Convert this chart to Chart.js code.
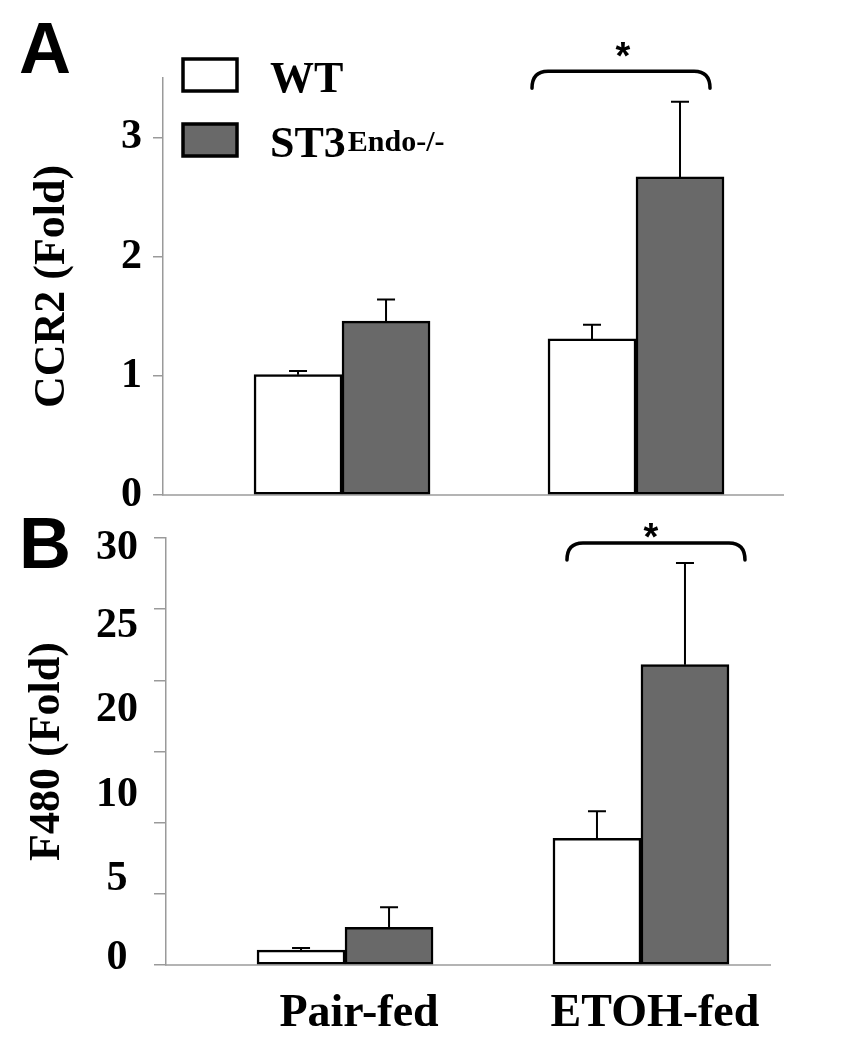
<!DOCTYPE html>
<html>
<head>
<meta charset="utf-8">
<script src="https://cdn.jsdelivr.net/npm/chart.js@4"></script>
<style>
  body { margin: 0; background: #fff; }
  canvas { position: absolute; left: 0; }
  #chartA { top: 0; }
  #chartB { top: 510px; }
</style>
</head>
<body>
<canvas id="chartA" width="856" height="510"></canvas>
<canvas id="chartB" width="856" height="540"></canvas>
<script>
// categories and series
const categories = ['Pair-fed', 'ETOH-fed'];
const seriesNames = ['WT', 'ST3'];
const seriesSup = ['', 'Endo-/-'];

// panel A: CCR2 (fold)
const ccr2WT = [1.01, 1.31];
const ccr2WTErr = [0.03, 0.12];
const ccr2KO = [1.46, 2.67];
const ccr2KOErr = [0.18, 0.63];
const ccr2Ticks = [0, 1, 2, 3];

// panel B: F480 (fold)
const f480WT = [1.05, 8.9];
const f480WTErr = [0.14, 1.9];
const f480KO = [2.65, 21.1];
const f480KOErr = [1.4, 7.15];
const f480Ticks = [0, 5, 10, 15, 20, 25, 30];
const f480TickLabels = ['0', '5', '10', '20', '25', '30'];
const f480LabelAt = [0.5, 6.0, 11.9, 17.9, 23.8, 29.3];

const serif = "'Liberation Serif', 'Times New Roman', serif";
const sans = "'Liberation Sans', Arial, sans-serif";
const axisGray = '#9a9a9a';
const koFill = '#696969';

// fixed axis width, no extra room for the end labels
function fixWidth(w) {
    return s => {
        s.width = w;
        s.paddingTop = 0;
        s.paddingBottom = 0;
    };
}

// error bars, significance bracket, legend and panel letter
const annotate = {
    id: 'annotate',
    afterDatasetsDraw(chart, args, opts) {
        const ctx = chart.ctx;
        const xs = chart.scales.x;
        const ys = chart.scales.y;
        const area = chart.chartArea;
        ctx.save();

        // error bars (upper half only)
        ctx.strokeStyle = '#000';
        ctx.lineWidth = 2;
        chart.data.datasets.forEach((ds, di) => {
            chart.getDatasetMeta(di).data.forEach((bar, i) => {
                const top = ys.getPixelForValue(ds.data[i].y + ds.err[i]);
                ctx.beginPath();
                ctx.moveTo(bar.x, bar.y);
                ctx.lineTo(bar.x, top);
                ctx.moveTo(bar.x - 9, top);
                ctx.lineTo(bar.x + 9, top);
                ctx.stroke();
            });
        });

        // bracket with star
        const s = opts.sig;
        const cx = xs.getPixelForValue(s.index + 1) + s.shift;
        const by = ys.getPixelForValue(s.value);
        const x1 = cx - 89, x2 = cx + 89, drop = 17, r = 16;
        ctx.lineWidth = 3.5;
        ctx.lineCap = 'round';
        ctx.beginPath();
        ctx.moveTo(x1, by + drop);
        ctx.quadraticCurveTo(x1, by, x1 + r, by);
        ctx.lineTo(x2 - r, by);
        ctx.quadraticCurveTo(x2, by, x2, by + drop);
        ctx.stroke();
        ctx.font = 'bold 38px ' + sans;
        ctx.fillStyle = '#000';
        ctx.textAlign = 'center';
        ctx.textBaseline = 'alphabetic';
        const m = ctx.measureText('*');
        ctx.fillText('*', cx + s.starShift, by - s.starGap - m.actualBoundingBoxDescent);

        // panel letter
        ctx.font = 'bold 72px ' + sans;
        ctx.textAlign = 'left';
        ctx.fillText(opts.letter, 19, opts.letterBase);

        // legend
        if (opts.legend) {
            chart.data.datasets.forEach((ds, di) => {
                const lx = area.left + 20, ly = area.top - 19 + di * 65;
                ctx.fillStyle = ds.backgroundColor;
                ctx.fillRect(lx, ly, 54, 32);
                ctx.lineWidth = 3.5;
                ctx.strokeStyle = '#000';
                ctx.strokeRect(lx, ly, 54, 32);
                ctx.fillStyle = '#000';
                ctx.font = 'bold 44px ' + serif;
                ctx.fillText(seriesNames[di], 270, ly + 33);
                if (seriesSup[di]) {
                    const w = ctx.measureText(seriesNames[di]).width;
                    ctx.font = 'bold 30px ' + serif;
                    ctx.fillText(seriesSup[di], 272 + w, ly + 27);
                }
            });
        }
        ctx.restore();
    }
};

function barSet(name, values, errs, fill) {
    return {
        label: name,
        data: values.map((v, i) => ({ x: i + 1, y: v })),
        err: errs,
        backgroundColor: fill,
        borderColor: '#000',
        borderWidth: 2.5,
        borderSkipped: false,
        barThickness: 88
    };
}

// Panel A
new Chart(document.getElementById('chartA'), {
    type: 'bar',
    data: {
        datasets: [
            barSet(seriesNames[0], ccr2WT, ccr2WTErr, '#ffffff'),
            barSet(seriesNames[1], ccr2KO, ccr2KOErr, koFill)
        ]
    },
    plugins: [annotate],
    options: {
        responsive: false,
        animation: false,
        layout: { padding: { top: 78, right: 73, bottom: 15, left: 0 } },
        scales: {
            x: {
                type: 'linear',
                offset: false,
                min: 0.391,
                max: 2.5,
                afterBuildTicks: s => { s.ticks = categories.map((c, i) => ({ value: i + 1 })); },
                afterFit: s => { s.height = 0; },
                ticks: { display: false },
                grid: { display: false, offset: false },
                border: { color: '#b4b4b4', width: 2 }
            },
            y: {
                min: 0,
                max: 3.5,
                afterBuildTicks: s => { s.ticks = ccr2Ticks.map(v => ({ value: v })); },
                afterFit: fixWidth(163),
                grid: { drawOnChartArea: false, tickLength: 10, color: axisGray, lineWidth: 1.5 },
                border: { color: axisGray, width: 1.5 },
                ticks: {
                    color: '#000',
                    padding: 11,
                    crossAlign: 'center',
                    font: { family: serif, size: 42, weight: 'bold' }
                },
                title: {
                    display: true,
                    text: 'CCR2 (Fold)',
                    color: '#000',
                    padding: { top: 26, bottom: 0 },
                    font: { family: serif, size: 44, weight: 'bold' }
                }
            }
        },
        plugins: {
            legend: { display: false },
            tooltip: { enabled: false },
            annotate: {
                letter: 'A',
                letterBase: 73,
                legend: true,
                sig: { index: 1, value: 3.557, shift: -15, starShift: 2, starGap: 14 }
            }
        }
    }
});

// Panel B
new Chart(document.getElementById('chartB'), {
    type: 'bar',
    data: {
        datasets: [
            barSet(seriesNames[0], f480WT, f480WTErr, '#ffffff'),
            barSet(seriesNames[1], f480KO, f480KOErr, koFill)
        ]
    },
    plugins: [annotate],
    options: {
        responsive: false,
        animation: false,
        layout: { padding: { top: 28, right: 86, bottom: 0, left: 0 } },
        scales: {
            x: {
                type: 'linear',
                offset: false,
                min: 0.395,
                max: 2.436,
                afterBuildTicks: s => { s.ticks = categories.map((c, i) => ({ value: i + 1 })); },
                afterFit: s => { s.height = 85; },
                grid: { display: false, offset: false },
                border: { color: '#b4b4b4', width: 2 },
                ticks: {
                    color: '#000',
                    padding: 14,
                    labelOffset: 14,
                    callback: v => categories[v - 1],
                    font: { family: serif, size: 46, weight: 'bold' }
                }
            },
            y: {
                min: 0,
                max: 30,
                weight: 0,
                afterBuildTicks: s => { s.ticks = f480Ticks.map(v => ({ value: v })); },
                afterFit: fixWidth(12),
                grid: { drawOnChartArea: false, tickLength: 12, color: axisGray, lineWidth: 1.5 },
                border: { color: axisGray, width: 1.5 },
                ticks: { display: false }
            },
            yl: {
                axis: 'y',
                position: 'left',
                min: 0,
                max: 30,
                weight: 1,
                afterBuildTicks: s => { s.ticks = f480LabelAt.map(v => ({ value: v })); },
                afterFit: fixWidth(154),
                grid: { display: false },
                border: { display: false },
                ticks: {
                    color: '#000',
                    padding: 8,
                    crossAlign: 'center',
                    callback: (v, i) => f480TickLabels[i],
                    font: { family: serif, size: 42, weight: 'bold' }
                },
                title: {
                    display: true,
                    text: 'F480 (Fold)',
                    color: '#000',
                    padding: { top: 21, bottom: 0 },
                    font: { family: serif, size: 44, weight: 'bold' }
                }
            }
        },
        plugins: {
            legend: { display: false },
            tooltip: { enabled: false },
            annotate: {
                letter: 'B',
                letterBase: 58,
                legend: false,
                sig: { index: 1, value: 29.65, shift: 15, starShift: -5, starGap: 5 }
            }
        }
    }
});
</script>
</body>
</html>
